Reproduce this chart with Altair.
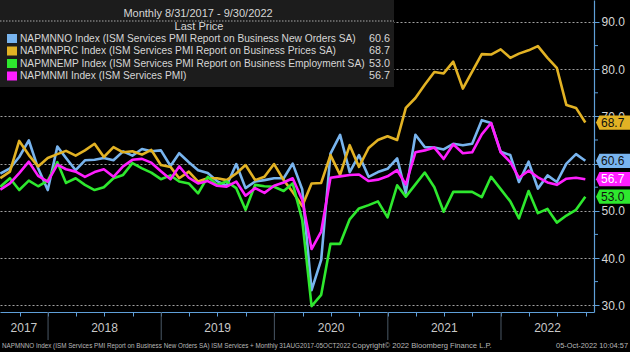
import altair as alt
import pandas as pd

# ---------------- data (monthly, Jul-2017 .. Sep-2022) ----------------
start_month = "2017-07-31"
n_months = 63

new_orders = [
    57.9, 59.0, 61.4, 64.9, 59.0, 54.4,
    63.6, 61.2, 58.6, 60.7, 60.8, 61.2, 60.7, 62.6, 61.7, 63.1, 62.6, 62.8,
    59.5, 62.2, 60.3, 58.6, 58.0, 56.3, 55.3, 59.9, 54.8, 56.2, 56.5, 56.9,
    56.9, 60.0, 54.5, 33.2, 39.6, 62.1, 66.1, 58.2, 61.8, 57.2, 58.2, 58.9,
    61.1, 53.8, 66.1, 63.5, 63.4, 63.0, 64.2, 63.9, 64.2, 69.2, 68.6, 62.5,
    61.8, 56.1, 60.4, 54.7, 57.5, 56.1, 60.0, 62.0, 60.6]

prices = [
    56.9, 58.3, 64.8, 61.8, 59.4, 61.2,
    62.0, 62.7, 61.7, 62.8, 64.2, 61.4, 63.5, 62.4, 62.6, 61.9, 62.9, 59.7,
    59.3, 56.9, 58.3, 56.2, 56.9, 56.9, 56.5, 57.9, 59.7, 56.5, 57.2, 59.9,
    56.5, 54.0, 51.0, 55.8, 55.9, 61.8, 57.6, 63.9, 59.3, 63.3, 65.0, 65.8,
    65.0, 71.8, 73.9, 76.7, 79.4, 79.1, 81.6, 75.9, 79.5, 83.2, 83.1, 84.2,
    82.4, 83.3, 84.0, 84.9, 82.4, 80.3, 72.4, 71.8, 68.7]

employment = [
    55.1, 56.9, 54.4, 56.4, 55.2, 56.4,
    60.3, 55.9, 56.9, 55.5, 54.4, 55.0, 56.9, 57.6, 60.1, 59.0, 58.1, 56.7,
    57.5, 56.2, 55.8, 53.7, 57.2, 55.5, 56.2, 54.8, 50.2, 55.5, 55.2, 55.1,
    54.2, 55.8, 48.0, 29.8, 32.2, 43.0, 43.0, 48.2, 50.5, 51.2, 52.0, 48.6,
    55.4, 53.0, 55.6, 58.1, 55.0, 49.8, 54.0, 54.0, 54.0, 52.9, 57.2, 54.6,
    52.0, 48.4, 54.2, 49.5, 50.4, 47.5, 49.0, 50.2, 53.0]

services_pmi = [
    54.5, 55.8, 58.0, 60.4, 57.4, 56.2,
    59.8, 58.8, 58.3, 57.2, 58.2, 58.8, 57.2, 59.4, 60.8, 61.0, 60.2, 58.4,
    56.7, 59.4, 57.0, 55.8, 56.3, 55.3, 55.1, 56.2, 53.2, 54.8, 53.8, 55.3,
    56.0, 56.9, 52.3, 41.9, 45.6, 57.0, 57.3, 57.6, 57.7, 56.3, 56.6, 57.3,
    58.6, 55.6, 62.4, 62.8, 63.4, 61.0, 64.1, 62.2, 62.4, 66.2, 68.6, 62.4,
    60.3, 57.0, 58.5, 57.1, 56.0, 55.5, 56.8, 57.0, 56.7]

series_names = [
    "NAPMNNO Index (ISM Services PMI Report on Business New Orders SA)",
    "NAPMNPRC Index (ISM Services PMI Report on Business Prices SA)",
    "NAPMNEMP Index (ISM Services PMI Report on Business Employment SA)",
    "NAPMNMI Index (ISM Services PMI)",
]
series_values = [new_orders, prices, employment, services_pmi]
series_colors = ["#78b4ee", "#e2b224", "#2ee82e", "#ff1eff"]
tag_text_colors = ["#101010", "#101010", "#101010", "#ffffff"]
last_labels = ["60.6", "68.7", "53.0", "56.7"]

y_ticks = [30, 40, 50, 60, 70, 80, 90]
y_minor = [35, 45, 55, 65, 75, 85]
years = [2017, 2018, 2019, 2020, 2021, 2022]

chart_title = "Monthly 8/31/2017 - 9/30/2022"
footer_left = "NAPMNNO Index (ISM Services PMI Report on Business New Orders SA) ISM Services +  Monthly 31AUG2017-05OCT2022"
footer_mid = "Copyright\u00a9 2022 Bloomberg Finance L.P."
footer_right = "05-Oct-2022 10:04:57"

# ---------------- build tables ----------------
dates = pd.date_range(start_month, periods=n_months, freq=pd.offsets.MonthEnd())
date_str = [d.strftime("%Y-%m-%d") for d in dates]

FONT = "Liberation Sans"
AXIS_BLUE = "#5f9fd8"
TEXT = "#d6d6d6"

dom_start = pd.Timestamp("2017-07-30")
dom_end = pd.Timestamp("2022-10-28")
x_scale = alt.Scale(
    type="utc",
    domain=[alt.DateTime(year=dom_start.year, month=dom_start.month, date=dom_start.day, utc=True),
            alt.DateTime(year=dom_end.year, month=dom_end.month, date=dom_end.day, utc=True)],
)
y_scale = alt.Scale(domain=[28.56, 94.66], nice=False, zero=False)

quarters = pd.date_range("2017-10-01", "2022-10-01", freq="QS")
quarter_vals = [alt.DateTime(year=q.year, month=q.month, date=1, utc=True) for q in quarters]

W, H = 594, 312

x_axis = alt.Axis(
    values=quarter_vals, labels=False, title=None, grid=False,
    domainColor=AXIS_BLUE, tickColor=AXIS_BLUE, tickSize=4, domainWidth=1.2)
y_axis = alt.Axis(
    orient="right", values=y_ticks, format=".1f", title=None,
    labelColor=TEXT, labelFont=FONT, labelFontSize=12, labelPadding=2,
    tickColor=AXIS_BLUE, tickSize=5, domainColor=AXIS_BLUE, domainWidth=1.2,
    grid=True, gridColor="#bdbdbd", gridDash=[2, 2], gridWidth=1, gridOpacity=0.85)


def X(field):
    return alt.X(field, scale=x_scale, axis=x_axis)


def Y(field):
    return alt.Y(field, scale=y_scale, axis=y_axis)


layers = []
for name, vals, col in zip(series_names, series_values, series_colors):
    d = pd.DataFrame({"date": date_str, "value": vals})
    layers.append(alt.Chart(d).mark_line(color=col, strokeWidth=2.6, clip=True,
                                         strokeJoin="round").encode(x=X("date:T"), y=Y("value:Q")))

# minor ticks on right axis
layers.append(alt.Chart(pd.DataFrame({"value": y_minor})).mark_rule(color=AXIS_BLUE, strokeWidth=1).encode(
    x=alt.value(W), x2=alt.value(W + 4), y=Y("value:Q")))

# year separators and labels
year_starts = [pd.Timestamp(f"{y}-01-01") for y in years[1:]]
layers.append(alt.Chart(pd.DataFrame({"date": [d.strftime("%Y-%m-%d") for d in year_starts]}))
              .mark_rule(color="#4a5866", strokeWidth=1).encode(
    x=X("date:T"), y=alt.value(H), y2=alt.value(H + 28)))

bounds = [dom_start] + year_starts + [dom_end]
mids = [(bounds[i] + (bounds[i + 1] - bounds[i]) / 2).strftime("%Y-%m-%d") for i in range(len(years))]
layers.append(alt.Chart(pd.DataFrame({"date": mids, "label": [str(y) for y in years]}))
              .mark_text(color="#c8c8c8", font=FONT, fontSize=12, baseline="middle").encode(
    x=X("date:T"), y=alt.value(H + 16), text="label:N"))

# footer
one = pd.DataFrame({"a": [0]})
layers.append(alt.Chart(one).mark_text(text=footer_left, color="#b8b8b8", font=FONT, fontSize=6.3,
                                       align="left", baseline="middle").encode(x=alt.value(2), y=alt.value(H + 34)))
layers.append(alt.Chart(one).mark_text(text=footer_mid, color="#b8b8b8", font=FONT, fontSize=7.6,
                                       align="left", baseline="middle").encode(x=alt.value(352), y=alt.value(H + 34)))
layers.append(alt.Chart(one).mark_text(text=footer_right, color="#b8b8b8", font=FONT, fontSize=7.4,
                                       align="right", baseline="middle").encode(x=alt.value(628), y=alt.value(H + 34)))

# value tags on the right
tag_df = pd.DataFrame({"value": [v[-1] for v in series_values], "label": last_labels,
                       "fill": series_colors, "tc": tag_text_colors})
tag_path = "M-1,0 L-0.8,-0.42 L1,-0.42 L1,0.42 L-0.8,0.42 Z"
layers.append(alt.Chart(tag_df).mark_point(shape=tag_path, size=1156, filled=True, opacity=1,
                                           strokeWidth=0).encode(
    x=alt.value(W + 19), y=Y("value:Q"), fill=alt.Fill("fill:N", scale=None)))
layers.append(alt.Chart(tag_df).mark_text(font=FONT, fontSize=12, align="left", baseline="middle").encode(
    x=alt.value(W + 7), y=Y("value:Q"), text="label:N", color=alt.Color("tc:N", scale=None)))

# legend box
BOX_W, BOX_H = 394, 87
layers.append(alt.Chart(one).mark_rect(color="#1c1c1c").encode(
    x=alt.value(0), x2=alt.value(BOX_W), y=alt.value(0), y2=alt.value(BOX_H)))
layers.append(alt.Chart(one).mark_text(text=chart_title, color=TEXT, font=FONT, fontSize=11,
                                       align="center", baseline="middle").encode(x=alt.value(198), y=alt.value(14)))
layers.append(alt.Chart(one).mark_rule(color="#a8a8a8", strokeDash=[1.5, 1.5], strokeWidth=1).encode(
    x=alt.value(0), x2=alt.value(BOX_W), y=alt.value(21)))
layers.append(alt.Chart(one).mark_text(text="Last Price", color=TEXT, font=FONT, fontSize=11,
                                       align="center", baseline="middle").encode(x=alt.value(199), y=alt.value(27)))
for i, (name, col, lab) in enumerate(zip(series_names, series_colors, last_labels)):
    yc = 38.5 + 12.5 * i
    layers.append(alt.Chart(one).mark_rect(color=col).encode(
        x=alt.value(7), x2=alt.value(17), y=alt.value(yc - 4.5), y2=alt.value(yc + 4.5)))
    layers.append(alt.Chart(one).mark_text(text=name, color=TEXT, font=FONT, fontSize=10.2,
                                           align="left", baseline="middle").encode(x=alt.value(20), y=alt.value(yc)))
    layers.append(alt.Chart(one).mark_text(text=lab, color=TEXT, font=FONT, fontSize=10.8,
                                           align="right", baseline="middle").encode(x=alt.value(390), y=alt.value(yc)))

chart = alt.layer(*layers).properties(
    width=W, height=H,
    autosize=alt.AutoSizeParams(type="none"),
    padding={"left": 0, "top": 0, "right": 36, "bottom": 40},
    background="#000000",
).configure_view(stroke=None)

chart.save("out.html", embed_options={"renderer": "svg", "actions": False})
